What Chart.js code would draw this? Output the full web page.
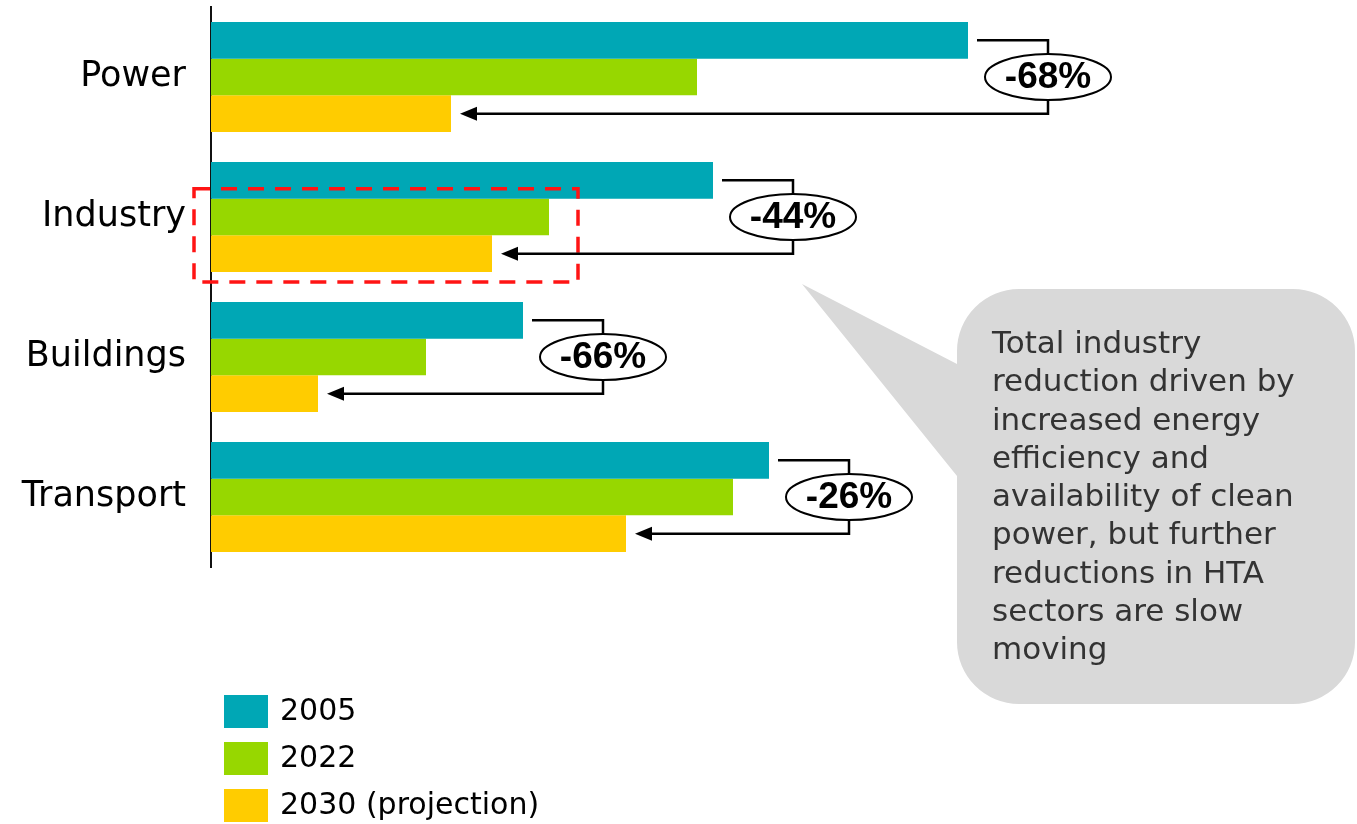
<!DOCTYPE html>
<html><head><meta charset="utf-8">
<script src="https://cdn.jsdelivr.net/npm/chart.js@4.4.1/dist/chart.umd.min.js"></script>
<style>html,body{margin:0;padding:0;background:#fff;overflow:hidden}#wrap{position:relative;width:1357px;height:824px}</style>
</head><body><div id="wrap"><canvas id="c" width="1357" height="824"></canvas></div>
<script>
const categories = ['Power', 'Industry', 'Buildings', 'Transport'];
const seriesNames = ['2005', '2022', '2030 (projection)'];
const values2005 = [757, 502, 312, 558];
const values2022 = [486, 338, 215, 522];
const values2030 = [240, 281, 107, 415];
const changeLabels = ['-68%', '-44%', '-66%', '-26%'];
const highlightCategory = 'Industry';
const noteLines = [
  'Total industry',
  'reduction driven by',
  'increased energy',
  'efficiency and',
  'availability of clean',
  'power, but further',
  'reductions in HTA',
  'sectors are slow',
  'moving'
];
const seriesColors = ['#00a7b5', '#97d700', '#ffcc00'];

const FONT = '"DejaVu Sans", sans-serif';

const overlayPlugin = {
  id: 'overlay',
  afterDatasetsDraw(chart) {
    const ctx = chart.ctx;
    const m0 = chart.getDatasetMeta(0), m1 = chart.getDatasetMeta(1), m2 = chart.getDatasetMeta(2);
    ctx.save();
    // red dashed highlight
    const hi = categories.indexOf(highlightCategory);
    const hb1 = m1.data[hi], hb2 = m2.data[hi];
    const rl = chart.chartArea.left - 17, rr = hb1.x + 29;
    const rt = hb1.y - hb1.height / 2 - 10, rb = hb2.y + hb2.height / 2 + 10;
    ctx.setLineDash([16, 11]);
    ctx.lineWidth = 3.5;
    ctx.strokeStyle = '#ff1414';
    ctx.strokeRect(rl, rt, rr - rl, rb - rt);
    ctx.setLineDash([]);

    // callouts
    for (let i = 0; i < categories.length; i++) {
      const a = m0.data[i], c = m2.data[i];
      const bx = a.x + 80;
      ctx.strokeStyle = '#000';
      ctx.lineWidth = 2.5;
      ctx.beginPath();
      ctx.moveTo(a.x + 9, a.y);
      ctx.lineTo(bx, a.y);
      ctx.lineTo(bx, c.y);
      ctx.lineTo(c.x + 9 + 12, c.y);
      ctx.stroke();
      // arrowhead
      ctx.fillStyle = '#000';
      ctx.beginPath();
      ctx.moveTo(c.x + 9, c.y);
      ctx.lineTo(c.x + 9 + 17, c.y - 7);
      ctx.lineTo(c.x + 9 + 17, c.y + 7);
      ctx.closePath();
      ctx.fill();
      // ellipse
      const cy = (a.y + c.y) / 2;
      ctx.beginPath();
      ctx.ellipse(bx, cy, 63, 23, 0, 0, Math.PI * 2);
      ctx.fillStyle = '#fff';
      ctx.fill();
      ctx.lineWidth = 2;
      ctx.stroke();
      ctx.fillStyle = '#000';
      ctx.font = 'bold 37px "Liberation Sans", sans-serif';
      ctx.textAlign = 'center';
      ctx.textBaseline = 'middle';
      ctx.fillText(changeLabels[i], bx, cy + 1);
    }
    ctx.restore();
  },
  afterDraw(chart) {
    const ctx = chart.ctx;
    ctx.save();
    // speech bubble
    const x1 = 957, y1 = 289, x2 = 1355, y2 = 704, r = 62;
    ctx.fillStyle = '#d9d9d9';
    ctx.beginPath();
    ctx.moveTo(x1 + r, y1);
    ctx.lineTo(x2 - r, y1);
    ctx.arcTo(x2, y1, x2, y1 + r, r);
    ctx.lineTo(x2, y2 - r);
    ctx.arcTo(x2, y2, x2 - r, y2, r);
    ctx.lineTo(x1 + r, y2);
    ctx.arcTo(x1, y2, x1, y2 - r, r);
    ctx.lineTo(x1, 476);
    ctx.lineTo(802, 284);
    ctx.lineTo(x1, 364);
    ctx.lineTo(x1, y1 + r);
    ctx.arcTo(x1, y1, x1 + r, y1, r);
    ctx.closePath();
    ctx.fill();
    ctx.fillStyle = '#333';
    ctx.font = '31px ' + FONT;
    ctx.textAlign = 'left';
    ctx.textBaseline = 'middle';
    noteLines.forEach((t, i) => ctx.fillText(t, 992, 345 + i * 38.25));

    // legend
    ctx.font = '30px ' + FONT;
    seriesNames.forEach((n, i) => {
      const ty = 695 + i * 47;
      ctx.fillStyle = seriesColors[i];
      ctx.fillRect(224, ty, 44, 33);
      ctx.fillStyle = '#000';
      ctx.fillText(n, 280, ty + 17);
    });
    ctx.restore();
  }
};

new Chart(document.getElementById('c'), {
  type: 'bar',
  data: {
    labels: categories,
    datasets: [
      { label: seriesNames[0], data: values2005, backgroundColor: seriesColors[0] },
      { label: seriesNames[1], data: values2022, backgroundColor: seriesColors[1] },
      { label: seriesNames[2], data: values2030, backgroundColor: seriesColors[2] }
    ]
  },
  options: {
    indexAxis: 'y',
    responsive: false,
    animation: false,
    categoryPercentage: 110 / 140,
    barPercentage: 1,
    layout: { padding: { left: 0, top: 7, right: 146, bottom: 257 } },
    plugins: { legend: { display: false }, tooltip: { enabled: false } },
    scales: {
      x: { display: false, min: 0, max: 1000 },
      y: {
        grid: { display: false, drawTicks: false },
        border: { display: true, color: '#111', width: 2 },
        ticks: { color: '#000', font: { family: FONT, size: 35 }, padding: 25 },
        afterFit: s => { s.width = 211; s.paddingTop = 0; s.paddingBottom = 0; }
      }
    }
  },
  plugins: [overlayPlugin]
});
</script>
</body></html>
